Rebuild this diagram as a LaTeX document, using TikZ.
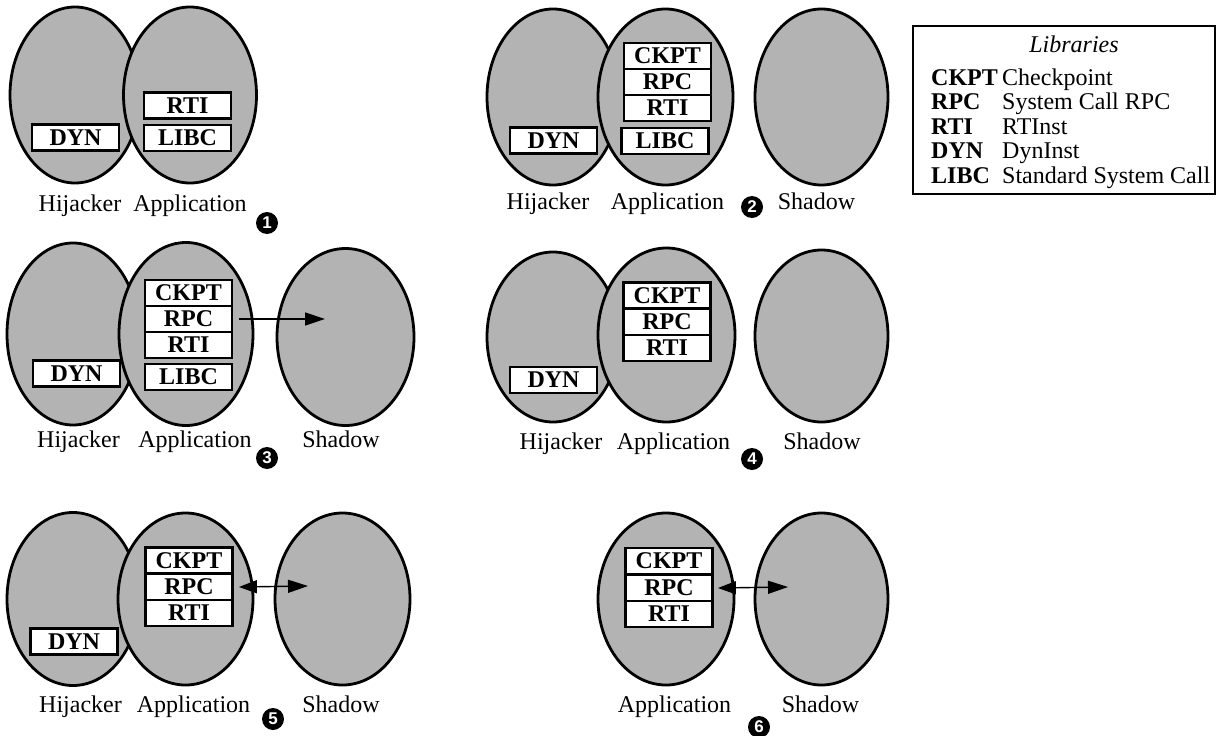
\documentclass[tikz,border=0pt]{standalone}
\usepackage{fontspec}
\setmainfont{Liberation Serif}
\setsansfont{Liberation Sans}
\usetikzlibrary{shapes.geometric,arrows.meta}
\definecolor{ellgray}{RGB}{179,179,179}
\tikzset{
  ell/.style={ellipse, draw, line width=2.8pt, fill=ellgray, inner sep=0},
  lib/.style={draw, fill=white, line width=2.8pt, minimum width=87pt, minimum height=26pt, inner sep=0, font=\fontsize{24}{28}\selectfont\bfseries},
  lbl/.style={anchor=base, inner sep=0, font=\fontsize{24}{28}\selectfont},
  num/.style={circle, fill=black, text=white, inner sep=0, minimum size=22pt, font=\sffamily\bfseries\fontsize{17}{17}\selectfont},
  conn/.style={line width=1.4pt, -{Triangle[length=20pt,width=13pt]}},
  conn2/.style={line width=1.4pt, {Triangle[length=18pt,width=13pt]}-{Triangle[length=20pt,width=13pt]}},
  legab/.style={anchor=base west, inner sep=0, font=\fontsize{24}{28}\selectfont\bfseries},
  legtx/.style={anchor=base west, inner sep=0, font=\fontsize{24}{28}\selectfont},
}
\begin{document}
\begin{tikzpicture}[x=1pt,y=-1pt]
\useasboundingbox (0,0) rectangle (1216,736);
% ---------- Panel 1
\node[ell, minimum width=130pt, minimum height=176pt] (h1) at (75,95) {};
\node[ell, minimum width=133pt, minimum height=176pt] (a1) at (190,95) {};
\node[lib] (rti1) at (187.5,105.5) {RTI};
\node[lib] (libc1) at (187.5,138) {LIBC};
\node[lib] (dyn1) at (75.5,137.5) {DYN};
\node[lbl] (lh1) at (80,211) {Hijacker};
\node[lbl] (la1) at (190,211) {Application};
\node[num] (n1) at (267,223) {1};
% ---------- Panel 2
\node[ell, minimum width=132pt, minimum height=176pt] (h2) at (553,97) {};
\node[ell, minimum width=135pt, minimum height=176pt] (a2) at (665.5,97) {};
\node[ell, minimum width=133pt, minimum height=176pt] (s2) at (821.5,97) {};
\node[lib] (ckpt2) at (667.5,56) {CKPT};
\node[lib] (rpc2) at (667.5,82) {RPC};
\node[lib] (rti2) at (667.5,108) {RTI};
\node[lib] (libc2) at (665,141) {LIBC};
\node[lib] (dyn2) at (553.5,140.5) {DYN};
\node[lbl] (lh2) at (548,209) {Hijacker};
\node[lbl] (la2) at (667.5,209) {Application};
\node[lbl] (ls2) at (816.5,209) {Shadow};
\node[num] (n2) at (752,207) {2};
% ---------- Panel 3
\node[ell, minimum width=132pt, minimum height=182pt] (h3) at (73,334) {};
\node[ell, minimum width=134pt, minimum height=183pt] (a3) at (186,334) {};
\node[ell, minimum width=137pt, minimum height=177pt] (s3) at (345.5,337) {};
\node[lib] (ckpt3) at (188.5,293) {CKPT};
\node[lib] (rpc3) at (188.5,319) {RPC};
\node[lib] (rti3) at (188.5,345) {RTI};
\node[lib] (libc3) at (188.5,377) {LIBC};
\node[lib] (dyn3) at (76.5,373.5) {DYN};
\coordinate (t3) at (325,319);
\draw[conn] ([xshift=6pt]rpc3.east) -- (t3);
\node[lbl] (lh3) at (78.5,447) {Hijacker};
\node[lbl] (la3) at (195,447) {Application};
\node[lbl] (ls3) at (341,447) {Shadow};
\node[num] (n3) at (267,458) {3};
% ---------- Panel 4
\node[ell, minimum width=132pt, minimum height=170pt] (h4) at (553,337) {};
\node[ell, minimum width=137pt, minimum height=174pt] (a4) at (666.5,335) {};
\node[ell, minimum width=133pt, minimum height=172pt] (s4) at (821.5,336) {};
\node[lib] (ckpt4) at (667,295.5) {CKPT};
\node[lib] (rpc4) at (667,322) {RPC};
\node[lib] (rti4) at (667,348) {RTI};
\node[lib] (dyn4) at (553.5,380) {DYN};
\node[lbl] (lh4) at (561,449) {Hijacker};
\node[lbl] (la4) at (673.5,449) {Application};
\node[lbl] (ls4) at (822,449) {Shadow};
\node[num] (n4) at (752,459) {4};
% ---------- Panel 5
\node[ell, minimum width=132pt, minimum height=173pt] (h5) at (73,599) {};
\node[ell, minimum width=135pt, minimum height=172pt] (a5) at (185.5,599) {};
\node[ell, minimum width=135pt, minimum height=172pt] (s5) at (342.5,599) {};
\node[lib] (ckpt5) at (189,560.5) {CKPT};
\node[lib] (rpc5) at (189,587) {RPC};
\node[lib] (rti5) at (189,613) {RTI};
\node[lib] (dyn5) at (74,641.5) {DYN};
\coordinate (t5) at (308,586);
\draw[conn2] ([xshift=5pt]rpc5.east) -- (t5);
\node[lbl] (lh5) at (80.5,712) {Hijacker};
\node[lbl] (la5) at (193.5,712) {Application};
\node[lbl] (ls5) at (341,712) {Shadow};
\node[num] (n5) at (273,719) {5};
% ---------- Panel 6
\node[ell, minimum width=136pt, minimum height=172pt] (a6) at (666,599) {};
\node[ell, minimum width=133pt, minimum height=172pt] (s6) at (821.5,599) {};
\node[lib] (ckpt6) at (669,561) {CKPT};
\node[lib] (rpc6) at (669,588) {RPC};
\node[lib] (rti6) at (669,614) {RTI};
\coordinate (t6) at (788,587);
\draw[conn2] ([xshift=4pt]rpc6.east) -- (t6);
\node[lbl] (la6) at (674.5,712) {Application};
\node[lbl] (ls6) at (820.5,712) {Shadow};
\node[num] (n6) at (759,727) {6};
% ---------- Legend
\draw[line width=2.6pt] (913,26) rectangle (1215,194);
\node[lbl, font=\fontsize{24}{28}\selectfont\itshape] (legt) at (1074,52) {Libraries};
\node[legab] (k1) at (931,85) {CKPT};
\node[legtx] (d1) at (1002,85) {Checkpoint};
\node[legab] (k2) at (931,109.5) {RPC};
\node[legtx] (d2) at (1002,109.5) {System Call RPC};
\node[legab] (k3) at (931,134) {RTI};
\node[legtx] (d3) at (1002,134) {RTInst};
\node[legab] (k4) at (931,158.5) {DYN};
\node[legtx] (d4) at (1002,158.5) {DynInst};
\node[legab] (k5) at (931,183) {LIBC};
\node[legtx] (d5) at (1002,183) {Standard System Call};
\end{tikzpicture}
\end{document}
